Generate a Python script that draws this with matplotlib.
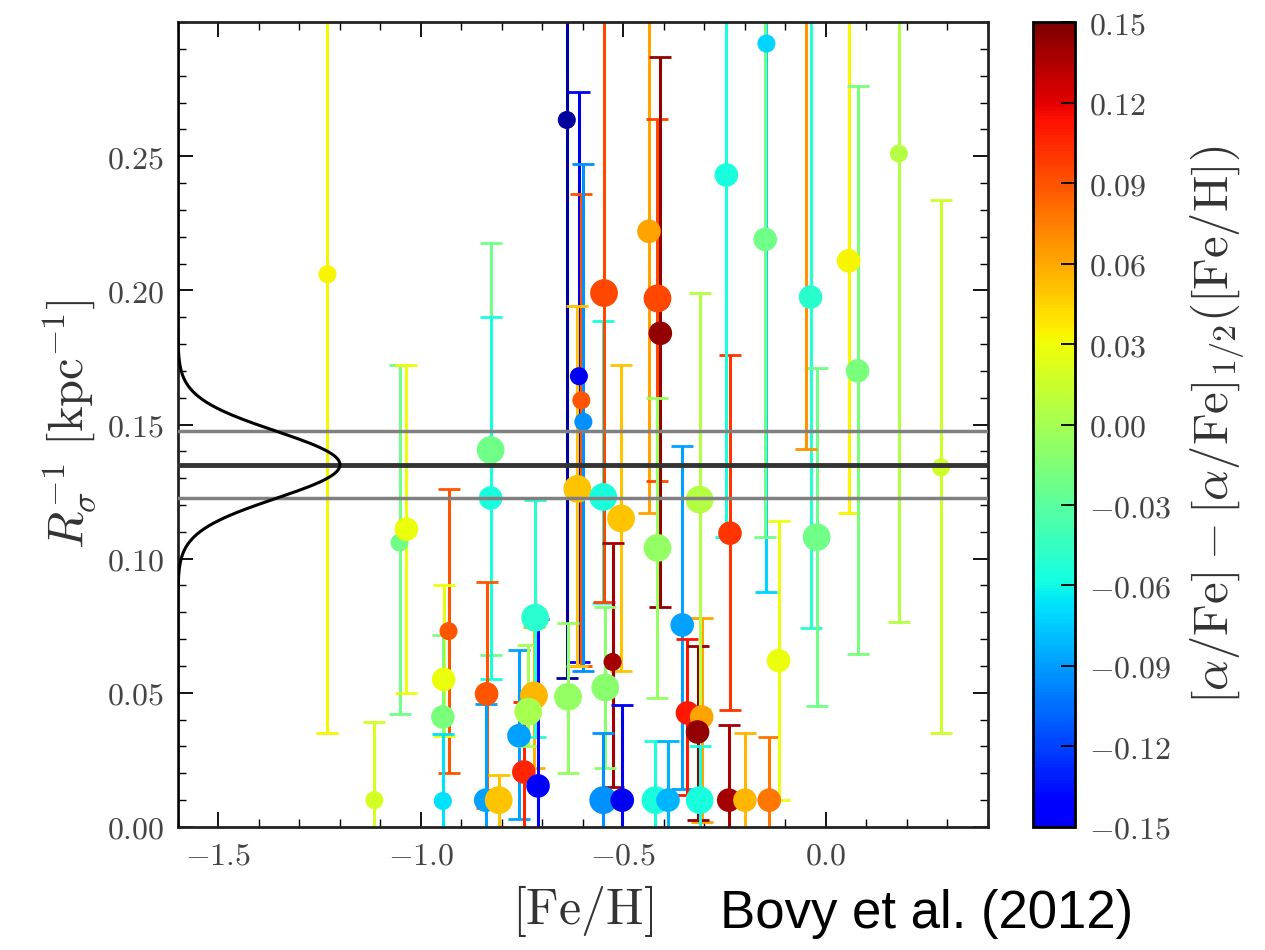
import numpy as np
import matplotlib
matplotlib.use("Agg")
import matplotlib.pyplot as plt
from matplotlib.ticker import FuncFormatter, MultipleLocator
from matplotlib import cm, colors

plt.rcParams['mathtext.fontset'] = 'cm'

# ---- data ----
feh = [-1.231, -1.115, -1.053, -1.036, -0.932, -0.944, -0.946, -0.946,
       -0.828, -0.828, -0.838, -0.840, -0.808, -0.758, -0.746, -0.721,
       -0.735, -0.718, -0.711, -0.640, -0.610, -0.604, -0.599, -0.614,
       -0.550, -0.548, -0.506, -0.527, -0.545, -0.550, -0.503, -0.637,
       -0.437, -0.416, -0.409, -0.416, -0.421, -0.390, -0.355, -0.342,
       -0.307, -0.317, -0.312, -0.312, -0.237, -0.240, -0.200, -0.140,
       -0.117, -0.147, -0.246, -0.150, 0.056, -0.038, -0.023, 0.078,
       0.180, 0.284, -0.050]
rinv = [0.206, 0.010, 0.106, 0.111, 0.073, 0.055, 0.041, 0.0097,
        0.1405, 0.1226, 0.0496, 0.010, 0.010, 0.034, 0.0205, 0.049,
        0.043, 0.078, 0.0153, 0.2635, 0.168, 0.159, 0.151, 0.126,
        0.123, 0.199, 0.115, 0.0615, 0.052, 0.010, 0.010, 0.0485,
        0.222, 0.197, 0.184, 0.104, 0.010, 0.010, 0.0753, 0.0425,
        0.041, 0.0354, 0.010, 0.122, 0.1095, 0.010, 0.010, 0.010,
        0.062, 0.292, 0.243, 0.219, 0.211, 0.1975, 0.108, 0.170,
        0.251, 0.134, 0.330]
rinv_lo = [0.035, -0.02, 0.042, 0.050, 0.020, 0.034, -0.02, -0.02,
           0.064, 0.055, 0.007, -0.02, -0.02, 0.003, -0.02, 0.022,
           0.030, 0.0335, -0.02, 0.0555, 0.0615, 0.060, 0.058, 0.060,
           0.0835, 0.084, 0.058, 0.015, 0.022, -0.02, -0.02, 0.020,
           0.117, 0.129, 0.082, 0.048, -0.02, -0.02, 0.014, 0.012,
           0.002, 0.0026, -0.02, 0.044, 0.0436, -0.02, -0.02, -0.02,
           0.010, 0.0876, 0.108, 0.108, 0.117, 0.074, 0.045, 0.0645,
           0.0765, 0.035, 0.141]
rinv_hi = [0.40, 0.039, 0.172, 0.172, 0.126, 0.090, 0.0716, 0.0347,
           0.2177, 0.190, 0.0913, 0.046, 0.0194, 0.066, 0.0466, 0.0745,
           0.068, 0.122, 0.0775, 0.40, 0.274, 0.236, 0.247, 0.194,
           0.1886, 0.40, 0.172, 0.106, 0.082, 0.035, 0.0455, 0.076,
           0.40, 0.264, 0.287, 0.160, 0.032, 0.032, 0.142, 0.070,
           0.078, 0.0675, 0.030, 0.199, 0.176, 0.038, 0.035, 0.0335,
           0.114, 0.40, 0.40, 0.40, 0.40, 0.40, 0.171, 0.276,
           0.40, 0.2337, 0.50]
alpha_resid = [0.033, 0.019, -0.022, 0.028, 0.089, 0.028, -0.017, -0.067,
               -0.022, -0.056, 0.089, -0.089, 0.050, -0.089, 0.106, 0.056,
               0.000, -0.050, -0.144, -0.160, -0.150, 0.089, -0.094, 0.050,
               -0.056, 0.094, 0.050, 0.139, -0.011, -0.094, -0.150, -0.006,
               0.061, 0.094, 0.144, -0.006, -0.056, -0.083, -0.089, 0.111,
               0.061, 0.144, -0.056, 0.006, 0.100, 0.139, 0.056, 0.078,
               0.028, -0.072, -0.056, -0.022, 0.033, -0.050, -0.022, -0.017,
               0.006, 0.017, 0.067]
n_stars = [1, 1, 1, 2, 1, 2, 2, 1,
           3, 2, 2, 2, 3, 2, 2, 3,
           3, 3, 2, 1, 1, 1, 1, 3,
           3, 3, 3, 1, 3, 3, 2, 3,
           2, 3, 2, 3, 3, 2, 2, 2,
           2, 2, 3, 3, 2, 2, 2, 2,
           2, 1, 2, 2, 2, 2, 3, 2,
           1, 1, 2]

x_ticks = [-1.5, -1.0, -0.5, 0.0]
y_ticks = [0.00, 0.05, 0.10, 0.15, 0.20, 0.25]
cbar_ticks = [-0.15, -0.12, -0.09, -0.06, -0.03, 0.00, 0.03, 0.06, 0.09, 0.12, 0.15]
mean_rinv = 0.135
band_lo, band_hi = 0.1225, 0.1475
sigma_rinv = 0.0125

# ---- figure ----
fig = plt.figure(figsize=(12.65, 9.5), dpi=100)
ax = fig.add_axes([0.1407, 0.1295, 0.6403, 0.8473])
cax = fig.add_axes([0.8166, 0.1295, 0.0332, 0.8473])

jet = plt.get_cmap('jet')
cmap = colors.LinearSegmentedColormap.from_list('jet_part', jet(np.linspace(0.1, 1.0, 256)))
cmap.set_under(jet(0.03))
norm = colors.Normalize(vmin=-0.15, vmax=0.15)

feh_a = np.array(feh)
r_a = np.array(rinv)
lo_a = np.array(rinv_lo)
hi_a = np.array(rinv_hi)
c_a = np.array(alpha_resid)
ms_a = np.array([13, 17, 20])[np.array(n_stars) - 1]

for xi, yi, lo, hi, ci in zip(feh_a, r_a, lo_a, hi_a, c_a):
    col = cmap(norm(ci))
    ax.errorbar([xi], [yi], yerr=[[yi - lo], [hi - yi]], fmt='none',
                ecolor=col, elinewidth=2.2, capsize=8, capthick=2.0, zorder=2)
ax.scatter(feh_a, r_a, s=ms_a ** 2, c=c_a, cmap=cmap, norm=norm,
           edgecolors='none', zorder=3)

# mean and band
ax.axhline(mean_rinv, color='#333333', lw=3.5, zorder=4)
ax.axhline(band_lo, color='#808080', lw=2.5, zorder=4)
ax.axhline(band_hi, color='#808080', lw=2.5, zorder=4)

# gaussian on the left
yy = np.linspace(0.0, 0.3, 600)
gx = -1.6 + 0.4 * np.exp(-0.5 * ((yy - mean_rinv) / sigma_rinv) ** 2)
ax.plot(gx, yy, color='black', lw=2.2, zorder=5)

ax.set_xlim(-1.6, 0.4)
ax.set_ylim(0.0, 0.3)
ax.set_xticks(x_ticks)
ax.set_yticks(y_ticks)
ax.xaxis.set_minor_locator(MultipleLocator(0.1))
ax.yaxis.set_minor_locator(MultipleLocator(0.01))
ax.xaxis.set_major_formatter(FuncFormatter(lambda v, p: r'$%.1f$' % v))
ax.yaxis.set_major_formatter(FuncFormatter(lambda v, p: r'$%.2f$' % v))
ax.tick_params(which='both', direction='in', top=True, right=True,
               labelsize=23, labelcolor='#444444')
ax.tick_params(which='major', length=11, width=1.3, pad=10)
ax.tick_params(which='minor', length=6, width=1.0)
for sp in ax.spines.values():
    sp.set_linewidth(2.0)
    sp.set_color('#222222')

ax.set_xlabel(r'$[\mathrm{Fe/H}]$', fontsize=36, color='#333333', labelpad=8)
ax.set_ylabel(r'$R_\sigma^{-1}\ [\mathrm{kpc}^{-1}]$', fontsize=35,
              color='#333333', labelpad=6)

sm = cm.ScalarMappable(norm=norm, cmap=cmap)
cb = fig.colorbar(sm, cax=cax, ticks=cbar_ticks)
cb.ax.yaxis.set_major_formatter(FuncFormatter(lambda v, p: r'$%.2f$' % (round(v, 2) + 0.0)))
cb.ax.tick_params(direction='in', length=10, width=1.3, labelsize=23,
                  labelcolor='#444444', pad=10)
cb.outline.set_linewidth(2.0)
cb.set_label(r'$[\alpha/\mathrm{Fe}] - [\alpha/\mathrm{Fe}]_{1/2}([\mathrm{Fe/H}])$',
             fontsize=35, color='#333333', labelpad=12)

fig.text(0.569, 0.038, 'Bovy et al. (2012)', fontsize=38, family='Liberation Sans',
         ha='left', va='center', color='black')

fig.savefig('out.png', dpi=100)
